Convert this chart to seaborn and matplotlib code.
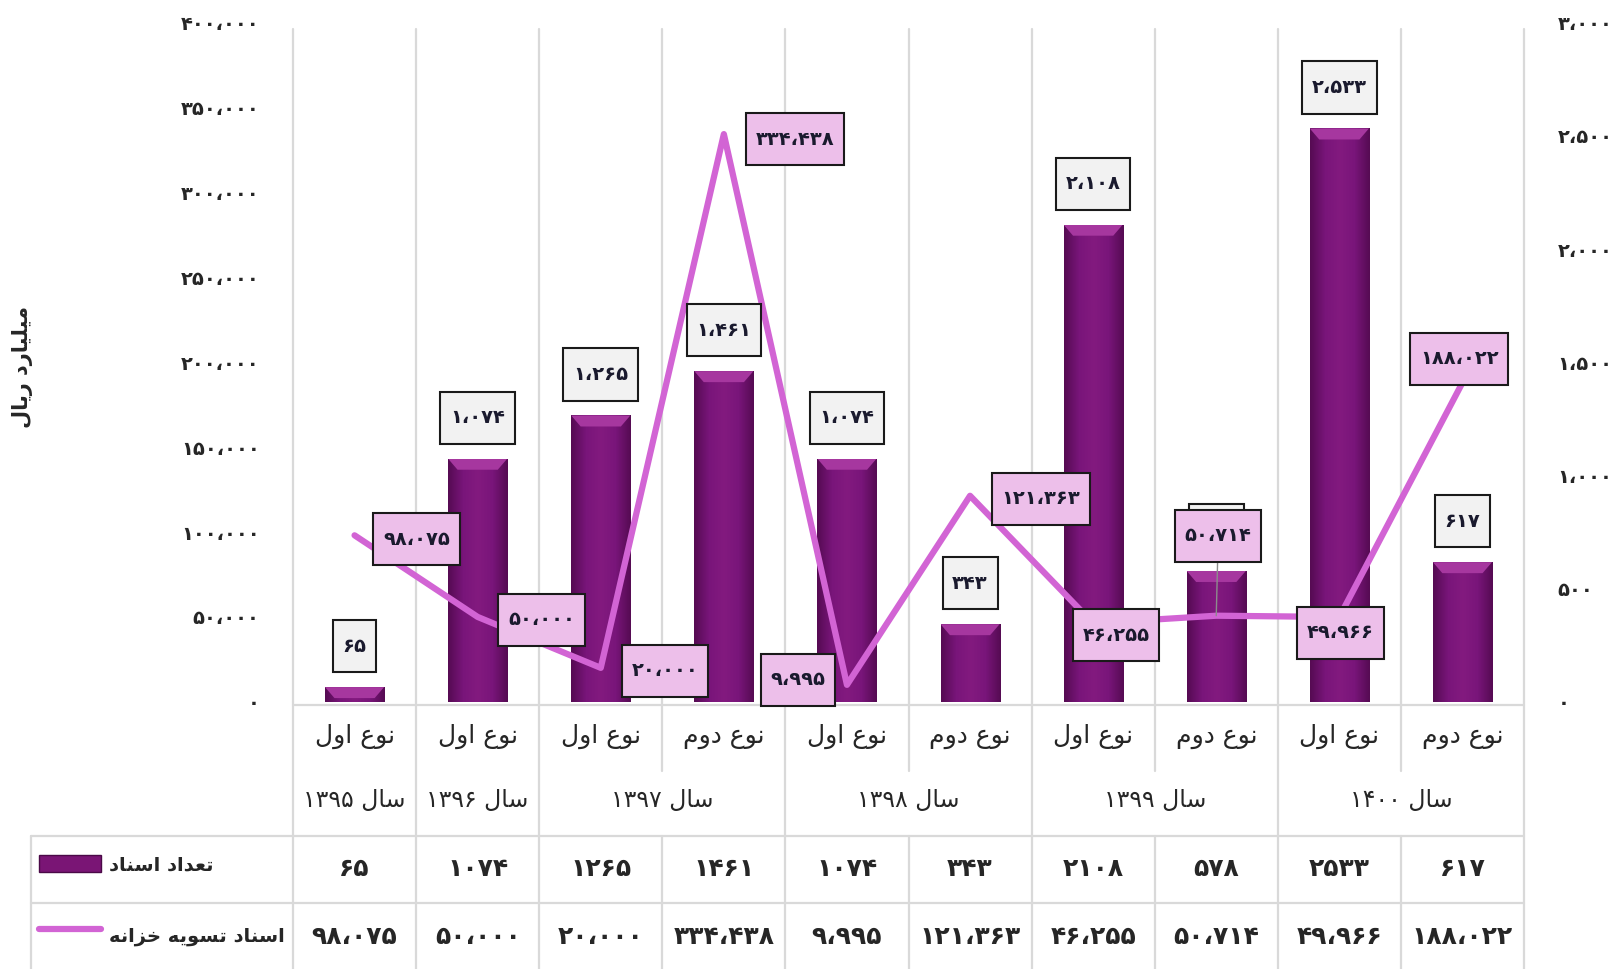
import numpy as np
import pandas as pd
import seaborn as sns
import matplotlib.pyplot as plt
from matplotlib.path import Path
from matplotlib.patches import Rectangle, Polygon
from matplotlib.colors import LinearSegmentedColormap

# داده‌ها
types = ['نوع اول', 'نوع اول', 'نوع اول', 'نوع دوم', 'نوع اول',
         'نوع دوم', 'نوع اول', 'نوع دوم', 'نوع اول', 'نوع دوم']
years = ['۱۳۹۵', '۱۳۹۶', '۱۳۹۷', '۱۳۹۷', '۱۳۹۸',
         '۱۳۹۸', '۱۳۹۹', '۱۳۹۹', '۱۴۰۰', '۱۴۰۰']
doc_count = [65, 1074, 1265, 1461, 1074, 343, 2108, 578, 2533, 617]
settlement = [98075, 50000, 20000, 334438, 9995, 121363, 46255, 50714, 49966, 188022]
count_ticks = [0, 500, 1000, 1500, 2000, 2500, 3000]
amount_ticks = [0, 50000, 100000, 150000, 200000, 250000, 300000, 350000, 400000]

count_name = 'تعداد اسناد'
amount_name = 'اسناد تسویه خزانه'
unit_name = 'میلیارد ریال'
year_word = 'سال'

# جای برچسب‌های خط نسبت به نقطه (پیکسل)
line_label_offsets = [(62, -4), (64, -3), (64, -3), (71, -5), (-49, 5),
                      (71, -3), (23, -12), (2, 80), (1, -16), (-3, 24)]

BAR_COLOR = '#7A1575'
LINE_COLOR = '#D264D4'
GRID = '#D9D9D9'

# شکل‌دهی حروف فارسی (matplotlib خودش اتصال حروف را انجام نمی‌دهد)
FORMS = {
    'ا': ('\uFE8D', '\uFE8E', None, None),
    'ت': ('\uFE95', '\uFE96', '\uFE97', '\uFE98'),
    'خ': ('\uFEA5', '\uFEA6', '\uFEA7', '\uFEA8'),
    'د': ('\uFEA9', '\uFEAA', None, None),
    'ر': ('\uFEAD', '\uFEAE', None, None),
    'ز': ('\uFEAF', '\uFEB0', None, None),
    'س': ('\uFEB1', '\uFEB2', '\uFEB3', '\uFEB4'),
    'ع': ('\uFEC9', '\uFECA', '\uFECB', '\uFECC'),
    'ل': ('\uFEDD', '\uFEDE', '\uFEDF', '\uFEE0'),
    'م': ('\uFEE1', '\uFEE2', '\uFEE3', '\uFEE4'),
    'ن': ('\uFEE5', '\uFEE6', '\uFEE7', '\uFEE8'),
    'ه': ('\uFEE9', '\uFEEA', '\uFEEB', '\uFEEC'),
    'و': ('\uFEED', '\uFEEE', None, None),
    'ی': ('\uFBFC', '\uFBFD', '\uFEF3', '\uFEF4'),
}
JOINS_NEXT = {k for k, v in FORMS.items() if v[2] is not None}
FA_DIGITS = '۰۱۲۳۴۵۶۷۸۹'


def shape_word(word):
    out = []
    for i, ch in enumerate(word):
        if ch not in FORMS:
            out.append(ch)
            continue
        prev = word[i - 1] if i > 0 else ''
        nxt = word[i + 1] if i + 1 < len(word) else ''
        a = prev in JOINS_NEXT
        b = ch in JOINS_NEXT and nxt in FORMS
        iso, fin, ini, med = FORMS[ch]
        out.append(med if (a and b) else fin if a else ini if b else iso)
    return ''.join(reversed(out))


def rtl(text):
    words = [w if w[0] in FA_DIGITS else shape_word(w) for w in text.split(' ')]
    return ' '.join(reversed(words))


def fa_num(n, sep=True):
    s = f'{n:,}' if sep else str(n)
    return s.translate(str.maketrans('0123456789,', FA_DIGITS + '،'))


def tall_box(x0, y0, width, height, mutation_size):
    px, py = 0.5 * mutation_size, 0.85 * mutation_size
    return Path([(x0 - px, y0 - py), (x0 + width + px, y0 - py),
                 (x0 + width + px, y0 + height + py), (x0 - px, y0 + height + py),
                 (x0 - px, y0 - py)], closed=True)


sns.set_theme(style='white')
plt.rcParams['font.family'] = ['DejaVu Sans']

W, H = 1623, 969
fig = plt.figure(figsize=(W / 100, H / 100), dpi=100)
ax = fig.add_axes([293 / W, 1 - 701.8 / H, (1524 - 293) / W, (701.8 - 22.8) / H])
axL = ax.twinx()

df = pd.DataFrame({'pos': range(len(doc_count)), 'count': doc_count, 'amount': settlement})

# ستون‌ها (محور راست)
sns.barplot(data=df, x='pos', y='count', ax=ax, color=BAR_COLOR, width=0.48,
            saturation=1, errorbar=None, edgecolor='none')
ax.set_xlim(-0.5, len(doc_count) - 0.5)
ax.set_ylim(0, 3000)

# سایه‌ی رنگی و لبه‌ی برجسته ستون‌ها
cmap = LinearSegmentedColormap.from_list('bev', ['#560B53', '#79157A', '#831A7F', '#79157A', '#560B53'])
ax_h_px = ax.get_position().height * H
bev_h = 11 * 3000 / ax_h_px
for p in list(ax.patches):
    x0, w, h = p.get_x(), p.get_width(), p.get_height()
    im = ax.imshow(np.linspace(0, 1, 64)[None, :], cmap=cmap, aspect='auto',
                   extent=[x0, x0 + w, 0, h], zorder=1.5)
    im.set_clip_path(p)
    dx = w * 0.16
    top = Polygon([(x0, h), (x0 + w, h), (x0 + w - dx, h - bev_h), (x0 + dx, h - bev_h)],
                  closed=True, facecolor='#A6379F', edgecolor='none', zorder=1.6)
    ax.add_patch(top)
    top.set_clip_path(p)
ax.set_xlim(-0.5, len(doc_count) - 0.5)
ax.set_ylim(0, 3000)

# خط (محور چپ)
sns.lineplot(data=df, x='pos', y='amount', ax=axL, color=LINE_COLOR, lw=4.5, zorder=2)
axL.set_ylim(0, 400000)
axL.set_xlim(-0.5, len(doc_count) - 0.5)

ax.yaxis.tick_right()
axL.yaxis.tick_left()
axL.yaxis.set_label_position('left')
for a in (ax, axL):
    for s in a.spines.values():
        s.set_visible(False)
    a.set_xticks([])
    a.set_xlabel('')
    a.patch.set_visible(False)
    a.tick_params(axis='y', length=0, pad=24, labelsize=14)
ax.set_ylabel('')
ax.set_yticks(count_ticks)
ax.set_yticklabels([fa_num(v) for v in count_ticks], fontweight='bold')
axL.set_yticks(amount_ticks)
axL.set_yticklabels([fa_num(v) for v in amount_ticks], fontweight='bold')
axL.set_ylabel(rtl(unit_name), fontsize=15, fontweight='bold')
axL.yaxis.set_label_coords(-0.211, 0.493)

# برچسب ستون‌ها
for i, v in enumerate(doc_count):
    axL.annotate(fa_num(v), xy=(i, v), xycoords=ax.transData, xytext=(0, 41),
                 textcoords='offset pixels', ha='center', va='center',
                 fontsize=14, fontweight='bold', color='#1A1A2E', zorder=5,
                 bbox=dict(boxstyle=tall_box, fc='#F2F2F2', ec='#1A1A1A', lw=1.5))

# برچسب خط
for i, v in enumerate(settlement):
    dx, dy = line_label_offsets[i]
    arrow = dict(arrowstyle='-', color='#8C8C8C', lw=1, shrinkA=0, shrinkB=0) if abs(dy) > 40 else None
    axL.annotate(fa_num(v), xy=(i, v), xytext=(dx, dy), textcoords='offset pixels',
                 ha='center', va='center', fontsize=14, fontweight='bold',
                 color='#1A1A2E', zorder=6, arrowprops=arrow,
                 bbox=dict(boxstyle=tall_box, fc='#EDBFEA', ec='#1A1A1A', lw=1.5))

# خطوط شبکه و جدول زیر نمودار
tr = ax.get_xaxis_transform()
n = len(doc_count)
y_base, y_cat, y_table, y_row, y_bot = -0.004, -0.1016, -0.197, -0.296, -0.393
x_left = -0.5 + (31 - 293) / ((1524 - 293) / n)
group_edges = [-0.5] + [i + 0.5 for i in range(n - 1) if years[i] != years[i + 1]] + [n - 0.5]
kw = dict(transform=tr, color=GRID, lw=1.6, clip_on=False, zorder=0.5)
for b in np.arange(-0.5, n, 1.0):
    ax.plot([b, b], [0.991, 0], **kw)
    if b in group_edges:
        ax.plot([b, b], [0, y_bot], **kw)
    else:
        ax.plot([b, b], [0, y_cat], **kw)
        ax.plot([b, b], [y_table, y_bot], **kw)
ax.plot([-0.5, n - 0.5], [y_base, y_base], **kw)
ax.plot([x_left, n - 0.5], [y_table, y_table], **kw)
ax.plot([x_left, n - 0.5], [y_row, y_row], **kw)
ax.plot([x_left, x_left], [y_table, y_bot], **kw)

for i, t in enumerate(types):
    ax.text(i, -0.0515, rtl(t), transform=tr, ha='center', va='center', fontsize=18)
for lo, hi in zip(group_edges[:-1], group_edges[1:]):
    y = years[int(lo + 0.5)]
    ax.text((lo + hi) / 2, -0.144, rtl(f'{year_word} {y}'), transform=tr,
            ha='center', va='center', fontsize=17)

for i in range(n):
    ax.text(i, -0.2467, fa_num(doc_count[i], sep=False), transform=tr, ha='center',
            va='center', fontsize=18, fontweight='bold')
    ax.text(i, -0.3457, fa_num(settlement[i]), transform=tr, ha='center',
            va='center', fontsize=18, fontweight='bold')

# کلید راهنما در جدول
unit = (1524 - 293) / n
sx0, sx1 = -0.5 + (39 - 293) / unit, -0.5 + (101 - 293) / unit
ax.add_patch(Rectangle((sx0, -0.2504), sx1 - sx0, 0.0251, transform=tr,
                       facecolor=BAR_COLOR, edgecolor='#4A0947', clip_on=False))
ax.plot([sx0, sx1], [-0.334, -0.334], transform=tr, color=LINE_COLOR, lw=4.5,
        solid_capstyle='round', clip_on=False)
tx = -0.5 + (109 - 293) / unit
ax.text(tx, -0.240, rtl(count_name), transform=tr, ha='left', va='center',
        fontsize=14, fontweight='bold')
ax.text(tx, -0.346, rtl(amount_name), transform=tr, ha='left', va='center',
        fontsize=14, fontweight='bold')

fig.savefig('out.png', dpi=100)
